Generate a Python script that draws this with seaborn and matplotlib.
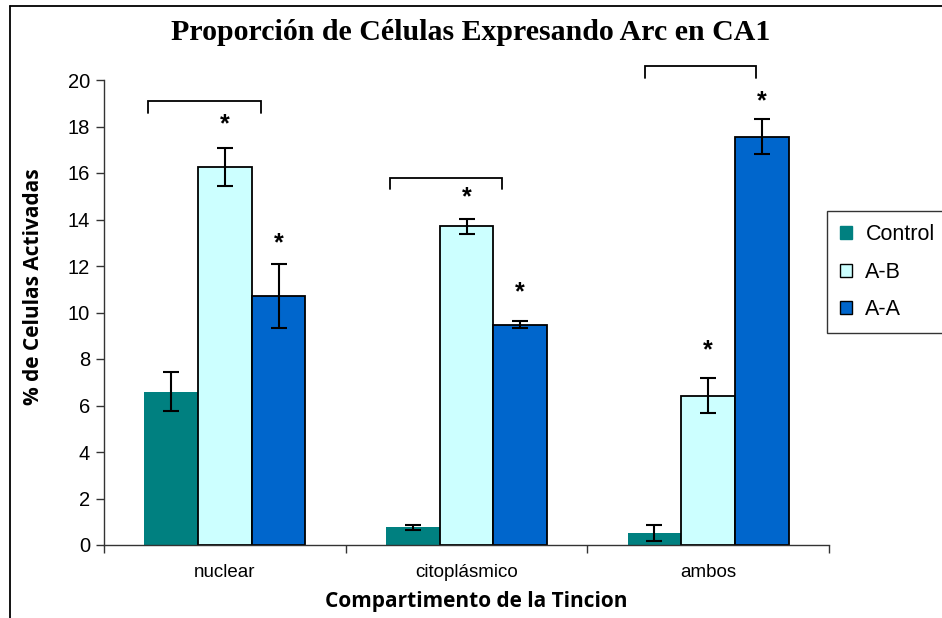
import matplotlib
matplotlib.use("Agg")
import matplotlib.pyplot as plt
from matplotlib.lines import Line2D
from matplotlib.patches import Rectangle
import seaborn as sns
import pandas as pd

# Data
compartments = ["nuclear", "citoplásmico", "ambos"]
groups = ["Control", "A-B", "A-A"]
control_vals = [6.6, 0.76, 0.52]
ab_vals = [16.26, 13.71, 6.42]
aa_vals = [10.71, 9.48, 17.56]
control_err = [0.84, 0.10, 0.36]
ab_err = [0.81, 0.32, 0.75]
aa_err = [1.38, 0.14, 0.75]
# significance stars: (compartment index, group, height)
stars = [(0, "A-B", 18.1), (0, "A-A", 12.97), (1, "A-B", 14.95),
         (1, "A-A", 10.85), (2, "A-B", 8.36), (2, "A-A", 19.07)]
# brackets: (compartment index, left offset, right offset, top, leg bottom)
brackets = [(0, -0.316, 0.148, 19.08, 18.58),
            (1, -0.316, 0.148, 15.8, 15.3),
            (2, -0.261, 0.196, 20.6, 20.07)]

colors = {"Control": "#008080", "A-B": "#CCFFFF", "A-A": "#0066CC"}

rows = []
for g, vals, errs in [("Control", control_vals, control_err),
                      ("A-B", ab_vals, ab_err),
                      ("A-A", aa_vals, aa_err)]:
    for c, v, e in zip(compartments, vals, errs):
        rows.append({"compartimento": c, "grupo": g, "valor": v, "err": e})
df = pd.DataFrame(rows)

sns.set_style("white")
plt.rcParams["font.family"] = ["Liberation Sans", "DejaVu Sans"]
plt.rcParams["text.color"] = "black"
plt.rcParams["xtick.color"] = "black"
plt.rcParams["ytick.color"] = "black"
plt.rcParams["axes.labelcolor"] = "black"

fig = plt.figure(figsize=(9.42, 6.18), dpi=100)
ax = fig.add_axes([104 / 942, 1 - 545 / 618, (829 - 104) / 942, (545 - 80) / 618])

sns.barplot(data=df, x="compartimento", y="valor", hue="grupo",
            order=compartments, hue_order=groups, palette=colors,
            width=0.667, errorbar=None, ax=ax, legend=False, saturation=1)

err_lookup = {"Control": control_err, "A-B": ab_err, "A-A": aa_err}
bar_x = {}
for g, cont in zip(groups, ax.containers):
    for i, patch in enumerate(cont.patches):
        if g == "Control":
            patch.set_edgecolor(colors[g])
            patch.set_linewidth(0)
        else:
            patch.set_edgecolor("black")
            patch.set_linewidth(1.3)
        cx = patch.get_x() + patch.get_width() / 2
        bar_x[(i, g)] = cx
        ax.errorbar(cx, patch.get_height(), yerr=err_lookup[g][i],
                    fmt="none", ecolor="black", elinewidth=1.5,
                    capsize=5.5, capthick=1.5, zorder=5)

for i, g, h in stars:
    ax.text(bar_x[(i, g)], h, "*", ha="center", va="center",
            fontsize=18, fontweight="bold", color="black")

for i, lo, hi, top, leg in brackets:
    ax.plot([i + lo, i + lo, i + hi, i + hi], [leg, top, top, leg],
            color="black", lw=1.3, clip_on=False, solid_joinstyle="miter")

ax.set_xlim(-0.5, 2.5)
ax.set_ylim(0, 20)
ax.set_yticks(range(0, 21, 2))
ax.set_xticks(range(3))
ax.set_xticks([-0.5, 0.5, 1.5, 2.5], minor=True)
ax.tick_params(axis="x", which="major", length=0, labelsize=13.5, pad=14)
ax.tick_params(axis="x", which="minor", length=6, width=1, direction="out",
               color="#333333", bottom=True)
ax.tick_params(axis="y", length=6, width=1, direction="out", labelsize=14.5,
               left=True, color="#333333", pad=4)
for s in ["top", "right"]:
    ax.spines[s].set_visible(False)
for s in ["left", "bottom"]:
    ax.spines[s].set_color("#333333")
    ax.spines[s].set_linewidth(1)

xl = ax.set_xlabel("Compartimento de la Tincion", fontsize=15, fontweight="bold",
                   family=["Open Sans", "DejaVu Sans"])
xl.set_va("center")
yl = ax.set_ylabel("% de Celulas Activadas", fontsize=15, fontweight="bold",
                   family=["Open Sans", "DejaVu Sans"])
yl.set_va("center")
ax.xaxis.set_label_coords((476 - 104) / 725, -(602 - 545) / 465)
ax.yaxis.set_label_coords(-(104 - 34) / 725, (545 - 287) / 465)

fig.text(471 / 942, 1 - 33 / 618, "Proporción de Células Expresando Arc en CA1",
         ha="center", va="center", fontsize=21.5, fontweight="bold",
         family=["Liberation Serif", "DejaVu Serif"])

# legend
handles = [Rectangle((0, 0), 1, 1, facecolor=colors["Control"], edgecolor=colors["Control"]),
           Rectangle((0, 0), 1, 1, facecolor=colors["A-B"], edgecolor="black", lw=1),
           Rectangle((0, 0), 1, 1, facecolor=colors["A-A"], edgecolor="black", lw=1)]
leg = fig.legend(handles, groups, loc="upper left",
                 bbox_to_anchor=(827 / 942, 1 - 211 / 618), frameon=True,
                 fontsize=15.5, handlelength=0.55, handleheight=0.55,
                 handletextpad=0.45, labelspacing=0.78, borderpad=0.6,
                 borderaxespad=0, fancybox=False, edgecolor="black")
leg.get_frame().set_linewidth(1)
leg._legend_box.align = "left"
for t in leg.get_texts():
    t.set_x(4)

# outer frame
fig.add_artist(Line2D([10 / 942, 10 / 942], [0, 1 - 6 / 618], color="black", lw=1.3,
                      transform=fig.transFigure))
fig.add_artist(Line2D([10 / 942, 1], [1 - 6 / 618, 1 - 6 / 618], color="black", lw=1.3,
                      transform=fig.transFigure))

fig.savefig("out.png", dpi=100)
